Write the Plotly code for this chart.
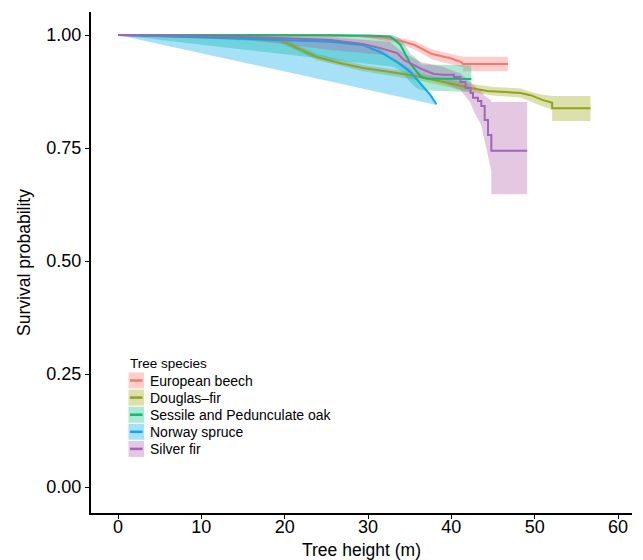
import plotly.graph_objects as go

# ---------------- data ----------------
species = ["European beech", "Douglas\u2013fir", "Sessile and Pedunculate oak", "Norway spruce", "Silver fir"]
line_colors = ["#F8766D", "#93A020", "#12B875", "#0BA9EA", "#A066B8"]
band_colors = ["rgba(248,118,109,0.35)", "rgba(158,168,20,0.36)", "rgba(0,185,120,0.32)",
               "rgba(0,170,235,0.35)", "rgba(178,95,170,0.35)"]

beech_x = [0, 25, 29, 32, 34, 35.6, 37.7, 38.3, 40, 41.2, 41.4, 46.8]
beech_y = [1, 1.0, 0.998, 0.994, 0.987, 0.978, 0.958, 0.955, 0.948, 0.940, 0.936, 0.936]
beech_band_x = [0, 29, 33, 35.6, 37.7, 40, 41.4, 41.4, 46.8]
beech_lo = [1, 0.996, 0.985, 0.968, 0.946, 0.935, 0.928, 0.920, 0.920]
beech_hi = [1, 1.0, 0.997, 0.987, 0.968, 0.958, 0.952, 0.952, 0.952]

dfir_x = [0, 10, 19.4, 21.5, 23.9, 26.6, 29.4, 33.5, 36.3, 42.3, 44.3, 48.3, 49.5, 51.0, 52.1, 52.1, 56.7]
dfir_y = [1, 0.996, 0.989, 0.971, 0.951, 0.938, 0.927, 0.916, 0.907, 0.883, 0.876, 0.872, 0.867, 0.856, 0.850, 0.838, 0.838]
dfir_band_x = [0, 10, 19.4, 23.9, 29.4, 36.3, 42.3, 45, 48.3, 50, 51, 52.1, 52.1, 56.7]
dfir_lo = [1, 0.993, 0.983, 0.944, 0.920, 0.899, 0.874, 0.866, 0.862, 0.850, 0.842, 0.835, 0.810, 0.810]
dfir_hi = [1, 0.999, 0.995, 0.958, 0.934, 0.915, 0.892, 0.885, 0.882, 0.872, 0.868, 0.865, 0.865, 0.865]

oak_x = [0, 20, 30, 32.6, 33.1, 33.9, 34.5, 35.1, 35.8, 36.4, 37, 42.4]
oak_y = [1, 1.0, 0.999, 0.997, 0.991, 0.978, 0.958, 0.936, 0.920, 0.907, 0.904, 0.903]
oak_band_x = [0, 14.4, 25.5, 33, 34, 34.5, 35.1, 35.8, 36.4, 42.4]
oak_lo = [1, 0.970, 0.946, 0.930, 0.920, 0.910, 0.895, 0.883, 0.878, 0.874]
oak_hi = [1, 1.0, 1.0, 1.0, 0.990, 0.975, 0.958, 0.948, 0.935, 0.933]

spruce_x = [0, 13.4, 25.5, 29.4, 31.5, 33.5, 35.1, 36.5, 37.5, 38.2]
spruce_y = [1, 0.993, 0.985, 0.978, 0.962, 0.940, 0.918, 0.889, 0.867, 0.847]
spruce_band_x = [0, 25.5, 31.5, 35.1, 38.2]
spruce_lo = [1, 0.897, 0.872, 0.858, 0.845]
spruce_hi = [1, 0.990, 0.968, 0.925, 0.850]

fir_x = [0, 10, 14.4, 20, 25.5, 29.4, 31.5, 33.5, 34.3, 36.4, 37.9, 39.0, 40.3, 40.3, 41.1, 41.1, 41.7, 41.7,
         42.3, 42.3, 42.6, 42.6, 43.2, 43.2, 43.6, 43.6, 44.0, 44.0, 44.4, 44.4, 44.8, 44.8, 49.1]
fir_y = [1, 0.998, 0.996, 0.993, 0.989, 0.980, 0.971, 0.960, 0.945, 0.925, 0.914, 0.912, 0.912, 0.907, 0.907, 0.896,
         0.896, 0.883, 0.883, 0.872, 0.872, 0.861, 0.861, 0.854, 0.854, 0.843, 0.843, 0.812, 0.812, 0.779, 0.779,
         0.744, 0.744]
fir_band_x = [0, 14.4, 25.5, 32.6, 34.3, 36.4, 39, 41.1, 42.3, 42.6, 43.6, 44.0, 44.4, 44.8, 44.8, 49.1]
fir_lo = [1, 0.993, 0.967, 0.955, 0.930, 0.905, 0.895, 0.878, 0.850, 0.835, 0.800, 0.765, 0.730, 0.700, 0.648, 0.648]
fir_hi = [1, 1.0, 0.995, 0.985, 0.960, 0.940, 0.930, 0.915, 0.895, 0.890, 0.875, 0.865, 0.860, 0.855, 0.852, 0.852]

x_ticks = [0, 10, 20, 30, 40, 50, 60]
y_ticks = [0.00, 0.25, 0.50, 0.75, 1.00]
y_tick_text = ["0.00", "0.25", "0.50", "0.75", "1.00"]

lines = [(beech_x, beech_y), (dfir_x, dfir_y), (oak_x, oak_y), (spruce_x, spruce_y), (fir_x, fir_y)]
bands = [(beech_band_x, beech_lo, beech_hi), (dfir_band_x, dfir_lo, dfir_hi), (oak_band_x, oak_lo, oak_hi),
         (spruce_band_x, spruce_lo, spruce_hi), (fir_band_x, fir_lo, fir_hi)]

# ---------------- figure ----------------
W, H = 643, 560
ML, MR, MT, MB = 91, 11, 12, 47
fig = go.Figure()

for i, (bx, lo, hi) in enumerate(bands):
    fig.add_trace(go.Scatter(x=list(bx) + list(bx)[::-1], y=list(hi) + list(lo)[::-1],
                             fill="toself", fillcolor=band_colors[i], line=dict(width=0),
                             mode="lines", hoverinfo="skip", showlegend=False))
for i, (lx, ly) in enumerate(lines):
    fig.add_trace(go.Scatter(x=lx, y=ly, mode="lines", line=dict(color=line_colors[i], width=2),
                             name=species[i], showlegend=False))

font = "Liberation Sans, Arial, Helvetica, sans-serif"
fig.update_layout(
    width=W, height=H, margin=dict(l=ML, r=MR, t=MT, b=MB),
    plot_bgcolor="white", paper_bgcolor="white",
    font=dict(family=font, color="black"),
    xaxis=dict(range=[-3.24, 61.68], tickvals=x_ticks, showgrid=False, zeroline=False, automargin=False,
               showline=True, linecolor="black", linewidth=2, ticks="outside", ticklen=4,
               tickcolor="black", tickwidth=1.3, tickfont=dict(size=18, color="black"),
               ticklabelstandoff=-8,
               title=dict(text="Tree height (m)", font=dict(size=17.5, color="black"), standoff=9)),
    yaxis=dict(range=[-0.0575, 1.051], tickvals=y_ticks, ticktext=y_tick_text, showgrid=False,
               zeroline=False, automargin=False, showline=True, linecolor="black", linewidth=2,
               ticks="outside", ticklen=4, tickcolor="black", tickwidth=1.3,
               tickfont=dict(size=18, color="black"),
               title=dict(text="Survival probability", font=dict(size=17.5, color="black"), standoff=11)),
)

# manual legend (ggplot-style keys)
pw, ph = W - ML - MR, H - MT - MB
def px(xp):
    return (xp - ML) / pw
def py(yp):
    return (H - MB - yp) / ph

fig.add_annotation(x=px(127.5), y=py(363), xref="paper", yref="paper", text="Tree species",
                   showarrow=False, xanchor="left", yanchor="middle", font=dict(size=13.5, color="black"))
row_top = 372
for i, name in enumerate(species):
    top = row_top + i * 17.1
    fig.add_shape(type="rect", xref="paper", yref="paper", x0=px(128.5), x1=px(144), y0=py(top + 0.5),
                  y1=py(top + 16.5), fillcolor=band_colors[i], line=dict(width=0))
    fig.add_shape(type="line", xref="paper", yref="paper", x0=px(130), x1=px(142.5), y0=py(top + 8.5),
                  y1=py(top + 8.5), line=dict(color=line_colors[i], width=2.5))
    fig.add_annotation(x=px(148), y=py(top + 8.5), xref="paper", yref="paper", text=name, showarrow=False,
                       xanchor="left", yanchor="middle", font=dict(size=14, color="black"))

fig.write_html("out.html")
